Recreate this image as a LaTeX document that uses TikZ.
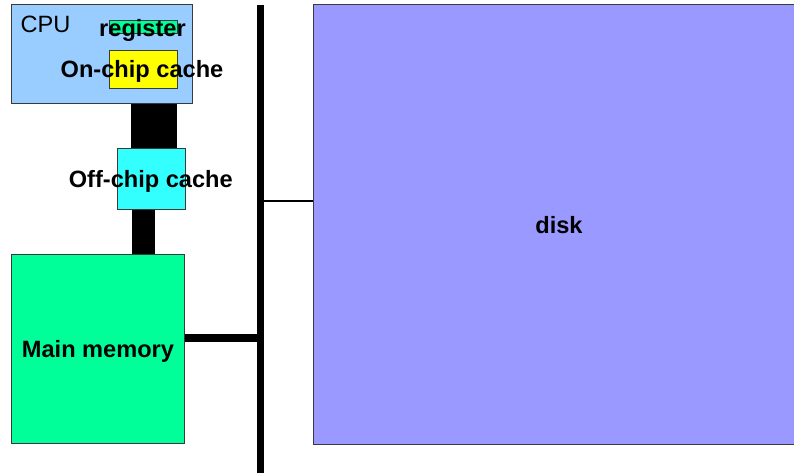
\documentclass[tikz,border=0pt]{standalone}
\usepackage{fontspec}
\setmainfont{Liberation Sans}
\definecolor{cpublue}{HTML}{99CCFF}
\definecolor{memgreen}{HTML}{00FF99}
\definecolor{cacheyellow}{HTML}{FFFF00}
\definecolor{offcyan}{HTML}{33FFFF}
\definecolor{diskblue}{HTML}{9999FF}
\definecolor{edge}{HTML}{3A3A3A}
\begin{document}
\begin{tikzpicture}[x=1pt,y=-1pt,
  unitbox/.style={draw=edge, line width=1pt, inner sep=0pt, anchor=north west},
  lbl/.style={inner sep=0pt, anchor=base, font=\fontsize{23.6}{28}\selectfont\bfseries},
  plainlbl/.style={inner sep=0pt, anchor=base west, font=\fontsize{23.6}{28}\selectfont},
  thickbar/.style={line width=#1, line cap=butt, draw=black}]
\useasboundingbox (0,0) rectangle (794,473);

% storage units
\node[unitbox, fill=cpublue, minimum width=181pt, minimum height=99pt] (cpu) at (11,4) {};
\node[unitbox, fill=memgreen, minimum width=68pt, minimum height=13pt] (reg) at (109,20) {};
\node[unitbox, fill=cacheyellow, minimum width=68pt, minimum height=38pt] (onchip) at (109,50) {};
\node[unitbox, fill=offcyan, minimum width=68pt, minimum height=61pt] (offchip) at (116.5,148) {};
\node[unitbox, fill=memgreen, minimum width=173pt, minimum height=189pt] (mem) at (11,254) {};
\node[unitbox, fill=diskblue, minimum width=520pt, minimum height=439pt] (disk) at (313,4.5) {};

% bus
\coordinate (bustop) at (260.5,5);
\coordinate (busbot) at (260.5,473);
\draw[thickbar=7.6pt] (bustop) -- (busbot);

% links between units
\coordinate (upx) at (154,0);
\coordinate (lowx) at (143.3,0);
\coordinate (memlink) at (0,338);
\coordinate (disklink) at (0,201);
\draw[thickbar=46pt] (cpu.south -| upx) -- (offchip.north -| upx);
\draw[thickbar=23.5pt] (offchip.south -| lowx) -- (mem.north -| lowx);
\draw[thickbar=7.6pt] (mem.east |- memlink) -- (bustop |- memlink);
\draw[thickbar=2pt] (bustop |- disklink) -- (disk.west |- disklink);

% labels
\node[plainlbl] (cpulbl) at (20.3,33) {CPU};
\node[lbl] (reglbl) at (142.5,36.5) {register};
\node[lbl] (onchiplbl) at (142,78) {On-chip cache};
\node[lbl] (offchiplbl) at (150.8,187) {Off-chip cache};
\node[lbl] (memlbl) at (98,357.3) {Main memory};
\node[lbl] (disklbl) at (559,233.3) {disk};
\end{tikzpicture}
\end{document}
